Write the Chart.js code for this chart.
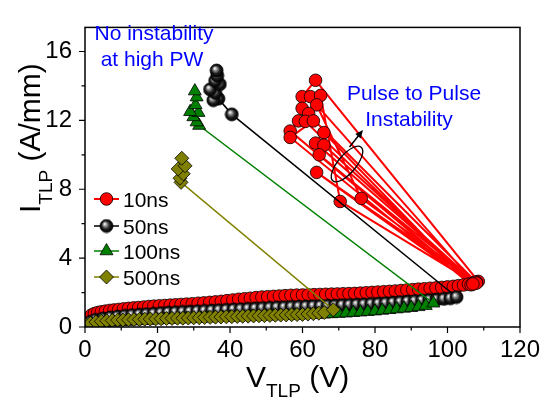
<!DOCTYPE html>
<html>
<head>
<meta charset="utf-8">
<script src="https://cdn.jsdelivr.net/npm/chart.js@4.4.0/dist/chart.umd.min.js"></script>
<style>
  html, body { margin: 0; padding: 0; background: #fff; }
</style>
</head>
<body>
<canvas id="tlp" width="551" height="401"></canvas>
<script>
// TLP sweeps: V in volts, I in A/mm, in the order the pulses were taken
// 10ns: leakage branch, then the snapback points bouncing back and forth (pulse to pulse instability)
const v10 = [0.3, 1.0, 1.8, 2.6, 3.5, 4.5, 5.6, 6.8, 8.0, 9.3, 10.6, 12.0, 13.4, 14.8, 16.2, 17.6, 19.0, 20.5,
  22.0, 23.5, 25.0, 26.5, 28.0, 29.6, 31.2, 32.8, 34.4, 36.0, 37.6, 39.2, 40.8, 42.4, 44.0, 45.6, 47.2, 48.8,
  50.4, 52.0, 53.6, 55.2, 56.8, 58.4, 60.0, 61.6, 63.2, 64.8, 66.4, 68.0, 69.6, 71.2, 72.8, 74.4, 76.0, 77.6,
  79.2, 80.8, 82.4, 84.0, 85.6, 87.2, 88.8, 90.4, 92.0, 93.6, 95.2, 96.8, 98.4, 100.0, 101.6, 103.0, 104.4,
  105.8, 107.2, 108.5,
  63.6, 59.9, 62.2, 65.0, 70.4, 107.5,
  63.9, 76.2, 108.0,
  59.9, 61.7, 58.9, 56.6, 107.0,
  60.8, 63.0, 56.6, 106.5,
  65.9, 63.6, 107.5,
  65.9, 64.6, 108.0,
  63.9, 107.0];
const i10 = [0.30, 0.55, 0.70, 0.78, 0.84, 0.88, 0.92, 0.96, 0.99, 1.02, 1.05, 1.08, 1.11, 1.13, 1.16, 1.19, 1.21, 1.23,
  1.25, 1.27, 1.29, 1.31, 1.33, 1.35, 1.38, 1.40, 1.43, 1.46, 1.49, 1.53, 1.57, 1.61, 1.64, 1.67, 1.71, 1.74,
  1.76, 1.78, 1.80, 1.82, 1.84, 1.85, 1.86, 1.87, 1.88, 1.89, 1.90, 1.91, 1.92, 1.93, 1.94, 1.95, 1.97, 1.99,
  2.01, 2.03, 2.05, 2.07, 2.09, 2.12, 2.15, 2.17, 2.20, 2.22, 2.25, 2.27, 2.30, 2.33, 2.36, 2.40, 2.44,
  2.49, 2.55, 2.65,
  14.33, 13.38, 13.38, 13.45, 7.29, 2.55,
  12.9, 7.47, 2.6,
  12.7, 12.4, 11.97, 11.38, 2.5,
  11.94, 11.97, 11.01, 2.45,
  11.29, 10.68, 2.6,
  10.56, 10.0, 2.55,
  8.98, 2.5];

// 50ns
const v50 = [0.3, 1.5, 3.0, 5.0, 7.0, 9.0, 11.0, 13.0, 15.0, 17.0, 19.0, 21.0, 23.0, 25.0, 27.0, 29.0, 31.0, 33.0,
  35.0, 37.0, 39.0, 41.0, 43.0, 45.0, 47.0, 49.0, 51.0, 53.0, 55.0, 57.0, 59.0, 61.0, 63.0, 65.0, 67.0, 69.0,
  71.0, 73.0, 75.0, 77.0, 79.0, 81.0, 83.0, 85.0, 87.0, 89.0, 91.0, 93.0, 95.0, 97.0, 99.0, 100.8, 102.5,
  40.5, 36.8, 35.4, 35.9, 34.5, 37.2, 35.9, 36.5, 36.3];
const i50 = [0.10, 0.30, 0.42, 0.50, 0.56, 0.61, 0.65, 0.69, 0.72, 0.75, 0.78, 0.81, 0.84, 0.86, 0.88, 0.90, 0.92, 0.94,
  0.96, 0.98, 1.00, 1.02, 1.04, 1.06, 1.08, 1.10, 1.12, 1.14, 1.15, 1.17, 1.18, 1.20, 1.21, 1.22, 1.24, 1.25,
  1.27, 1.28, 1.30, 1.32, 1.34, 1.36, 1.39, 1.42, 1.45, 1.48, 1.51, 1.54, 1.57, 1.60, 1.63, 1.67, 1.74,
  12.35, 13.26, 13.17, 13.6, 13.8, 14.1, 14.3, 14.6, 14.9];

// 100ns
const v100 = [0.3, 2, 4, 6, 8, 10, 12, 14, 16, 18, 20, 22, 24, 26, 28, 30, 32, 34, 36, 38, 40, 42, 44, 46, 48,
  50, 52, 54, 56, 58, 60, 62, 64, 66, 68, 70, 72, 74, 76, 78, 80, 82, 84, 86, 88, 90, 92, 94, 96.1,
  31.5, 30.8, 29.9, 31.3, 29.0, 30.5, 30.8, 30.3];
const i100 = [0.05, 0.15, 0.20, 0.24, 0.27, 0.30, 0.32, 0.34, 0.36, 0.38, 0.40, 0.42, 0.44, 0.45, 0.47, 0.48, 0.50,
  0.51, 0.53, 0.54, 0.56, 0.57, 0.58, 0.60, 0.61, 0.62, 0.64, 0.65, 0.66, 0.68, 0.69, 0.71, 0.72, 0.74, 0.76,
  0.78, 0.80, 0.83, 0.86, 0.89, 0.92, 0.96, 1.00, 1.04, 1.08, 1.12, 1.17, 1.24, 1.38,
  11.7, 11.9, 12.2, 12.45, 12.5, 12.9, 13.35, 13.7];

// 500ns
const v500 = [0.3, 1.5, 3, 4.5, 6, 7.5, 9, 10.5, 12, 13.5, 15, 16.5, 18, 19.5, 21, 22.5, 24, 25.5, 27, 28.5, 30,
  31.5, 33, 34.5, 36, 37.5, 39, 40.5, 42, 43.5, 45, 46.5, 48, 49.5, 51, 52.5, 54, 55.5, 57, 58.5, 60, 61.5,
  63, 64.5, 66, 68.5,
  26.5, 26.2, 27.1, 25.7, 27.6, 26.7];
const i500 = [0.12, 0.22, 0.29, 0.33, 0.36, 0.38, 0.40, 0.41, 0.42, 0.43, 0.44, 0.45, 0.46, 0.47, 0.48, 0.49, 0.50,
  0.51, 0.51, 0.52, 0.53, 0.54, 0.55, 0.56, 0.57, 0.58, 0.59, 0.60, 0.61, 0.62, 0.63, 0.64, 0.65, 0.66, 0.67,
  0.68, 0.69, 0.70, 0.71, 0.72, 0.73, 0.75, 0.77, 0.80, 0.84, 1.00,
  8.4, 8.64, 8.9, 9.18, 9.36, 9.8];

const seriesNames = ['10ns', '50ns', '100ns', '500ns'];
const xTicks = [0, 20, 40, 60, 80, 100, 120];
const yTicks = [0, 4, 8, 12, 16];

const FONT = "'Liberation Sans', Arial, sans-serif";

function toXY(vs, is) {
  return vs.map(function(v, k) { return { x: v, y: is[k] }; });
}

// shaded black ball like the 50ns marker
function makeBall(r) {
  const s = Math.ceil(r * 2 + 2);
  const c = document.createElement('canvas');
  c.width = s; c.height = s;
  const g = c.getContext('2d');
  const cx = s / 2, cy = s / 2;
  const grad = g.createRadialGradient(cx - r * 0.3, cy - r * 0.35, 0.3, cx, cy, r);
  grad.addColorStop(0, '#ffffff');
  grad.addColorStop(0.28, '#8c8c8c');
  grad.addColorStop(0.62, '#1c1c1c');
  grad.addColorStop(1, '#000000');
  g.fillStyle = grad;
  g.beginPath();
  g.arc(cx, cy, r, 0, Math.PI * 2);
  g.fill();
  g.strokeStyle = '#000';
  g.lineWidth = 0.8;
  g.stroke();
  return c;
}
const ball = makeBall(6.5);

const styles = [
  { line: '#ff0000', lw: 2, fill: '#ff0000', point: 'circle', r: 6.3 },
  { line: '#000000', lw: 1.5, fill: '#000000', point: ball, r: 6.5 },
  { line: '#008000', lw: 1.5, fill: '#008000', point: 'triangle', r: 7.5 },
  { line: '#808000', lw: 1.5, fill: '#808000', point: 'rectRot', r: 7 }
];
const seriesData = [toXY(v10, i10), toXY(v50, i50), toXY(v100, i100), toXY(v500, i500)];

// Origin draws later series on top
const datasets = seriesData.map(function(d, k) {
  const st = styles[k];
  return {
    label: seriesNames[k],
    data: d,
    showLine: true,
    borderColor: st.line,
    borderWidth: st.lw,
    pointStyle: st.point,
    pointRadius: st.r,
    pointBackgroundColor: st.fill,
    pointBorderColor: '#000',
    pointBorderWidth: 0.8,
    order: 4 - k
  };
});

function drawMarker(ctx, st, x, y) {
  ctx.save();
  ctx.fillStyle = st.fill;
  ctx.strokeStyle = '#000';
  ctx.lineWidth = 0.8;
  if (st.point === ball) {
    ctx.drawImage(ball, x - ball.width / 2, y - ball.height / 2);
  } else {
    ctx.beginPath();
    const r = st.r;
    if (st.point === 'circle') {
      ctx.arc(x, y, r, 0, Math.PI * 2);
    } else if (st.point === 'triangle') {
      ctx.moveTo(x, y - r);
      ctx.lineTo(x + r * Math.sin(2 * Math.PI / 3), y + r * 0.5);
      ctx.lineTo(x - r * Math.sin(2 * Math.PI / 3), y + r * 0.5);
      ctx.closePath();
    } else {
      ctx.moveTo(x, y - r);
      ctx.lineTo(x + r, y);
      ctx.lineTo(x, y + r);
      ctx.lineTo(x - r, y);
      ctx.closePath();
    }
    ctx.fill();
    ctx.stroke();
  }
  ctx.restore();
}

const decor = {
  id: 'decor',
  afterDraw(chart) {
    const ctx = chart.ctx;
    const a = chart.chartArea;
    const xs = chart.scales.x, ys = chart.scales.y;
    ctx.save();

    // frame and tick marks
    ctx.strokeStyle = '#000';
    ctx.lineWidth = 1.5;
    ctx.strokeRect(a.left, a.top, a.right - a.left, a.bottom - a.top);
    ctx.lineWidth = 1.2;
    ctx.beginPath();
    xTicks.forEach(function(t, k) {
      const px = xs.getPixelForValue(t);
      ctx.moveTo(px, a.bottom); ctx.lineTo(px, a.bottom + 6);
      if (k < xTicks.length - 1) {
        const pm = xs.getPixelForValue((t + xTicks[k + 1]) / 2);
        ctx.moveTo(pm, a.bottom); ctx.lineTo(pm, a.bottom + 3.5);
      }
    });
    yTicks.forEach(function(t, k) {
      const py = ys.getPixelForValue(t);
      ctx.moveTo(a.left, py); ctx.lineTo(a.left - 6, py);
      const next = k < yTicks.length - 1 ? yTicks[k + 1] : t + 4;
      const pm = ys.getPixelForValue((t + next) / 2);
      if (pm > a.top) { ctx.moveTo(a.left, pm); ctx.lineTo(a.left - 3.5, pm); }
    });
    ctx.stroke();

    // axis titles with subscripts
    ctx.fillStyle = '#000';
    ctx.textAlign = 'left';
    ctx.textBaseline = 'alphabetic';
    ctx.font = '30px ' + FONT;
    let x0 = 246;
    ctx.fillText('V', x0, 387);
    x0 += ctx.measureText('V').width;
    ctx.font = '19px ' + FONT;
    ctx.fillText('TLP', x0, 397);
    x0 += ctx.measureText('TLP').width;
    ctx.font = '30px ' + FONT;
    ctx.fillText(' (V)', x0, 387);

    ctx.save();
    ctx.translate(40, 213);
    ctx.rotate(-Math.PI / 2);
    ctx.font = '30px ' + FONT;
    let y0 = 0;
    ctx.fillText('I', y0, 0);
    y0 += ctx.measureText('I').width;
    ctx.font = '19px ' + FONT;
    ctx.fillText('TLP', y0, 12);
    y0 += ctx.measureText('TLP').width;
    ctx.font = '30px ' + FONT;
    ctx.fillText(' (A/mm)', y0, 0);
    ctx.restore();

    // legend
    const legendY = [199, 226, 251, 277];
    ctx.font = '21px ' + FONT;
    seriesNames.forEach(function(name, k) {
      const st = styles[k];
      const ly = legendY[k];
      ctx.strokeStyle = st.line;
      ctx.lineWidth = st.lw;
      ctx.beginPath();
      ctx.moveTo(94, ly); ctx.lineTo(119, ly);
      ctx.stroke();
      drawMarker(ctx, st, 106.5, ly);
      ctx.fillStyle = '#000';
      ctx.fillText(name, 123, ly + 7.5);
    });

    // annotations
    ctx.fillStyle = '#0000ff';
    ctx.textAlign = 'center';
    ctx.font = '21px ' + FONT;
    ctx.fillText('No instability', 154, 40);
    ctx.fillText('at high PW', 152, 66);
    ctx.fillText('Pulse to Pulse', 414, 100);
    ctx.fillText('Instability', 409, 126);

    ctx.strokeStyle = '#000';
    ctx.lineWidth = 1.3;
    ctx.beginPath();
    ctx.ellipse(347, 164, 22, 9, -50 * Math.PI / 180, 0, Math.PI * 2);
    ctx.stroke();

    const ax0 = 349.5, ay0 = 147, ax1 = 363, ay1 = 130;
    const ang = Math.atan2(ay1 - ay0, ax1 - ax0);
    ctx.lineWidth = 1.5;
    ctx.beginPath();
    ctx.moveTo(ax0, ay0);
    ctx.lineTo(ax1 - 5 * Math.cos(ang), ay1 - 5 * Math.sin(ang));
    ctx.stroke();
    ctx.fillStyle = '#000';
    ctx.beginPath();
    ctx.moveTo(ax1, ay1);
    ctx.lineTo(ax1 - 8 * Math.cos(ang) + 3.5 * Math.sin(ang), ay1 - 8 * Math.sin(ang) - 3.5 * Math.cos(ang));
    ctx.lineTo(ax1 - 8 * Math.cos(ang) - 3.5 * Math.sin(ang), ay1 - 8 * Math.sin(ang) + 3.5 * Math.cos(ang));
    ctx.closePath();
    ctx.fill();

    ctx.restore();
  }
};

new Chart(document.getElementById('tlp'), {
  type: 'scatter',
  data: { datasets: datasets },
  options: {
    responsive: false,
    animation: false,
    events: [],
    layout: { padding: { top: 7, right: 31, left: 0, bottom: 0 } },
    plugins: {
      legend: { display: false },
      tooltip: { enabled: false }
    },
    scales: {
      x: {
        type: 'linear',
        min: 0,
        max: 120,
        grid: { display: false, drawTicks: false },
        border: { display: false },
        ticks: { stepSize: 20, color: '#000', font: { family: FONT, size: 24 }, padding: 9, maxRotation: 0 },
        afterFit(s) { s.height = 74; }
      },
      y: {
        type: 'linear',
        min: 0,
        max: 17.4,
        grid: { display: false, drawTicks: false },
        border: { display: false },
        ticks: { stepSize: 4, includeBounds: false, color: '#000', font: { family: FONT, size: 24 }, padding: 13 },
        afterFit(s) { s.width = 85; }
      }
    }
  },
  plugins: [decor]
});
</script>
</body>
</html>
